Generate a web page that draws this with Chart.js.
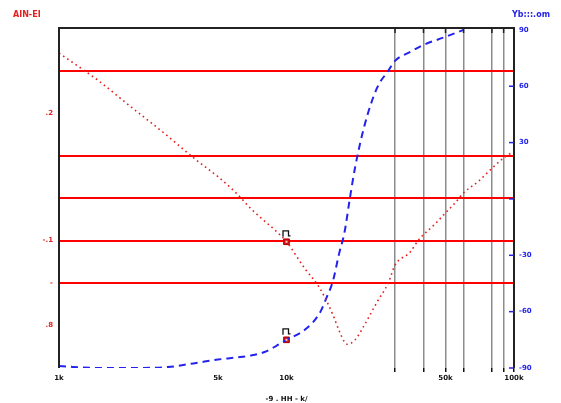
<!DOCTYPE html>
<html><head><meta charset="utf-8">
<script src="https://cdn.jsdelivr.net/npm/chart.js@4.4.1/dist/chart.umd.min.js"></script>
<style>html,body{margin:0;padding:0;background:#fff}canvas{display:block}</style>
</head><body>
<canvas id="c" width="561" height="403"></canvas>
<script>
// ---- data ----
const freqRed   = [1000,1500,2000,3000,4000,5000,6000,7000,8000,9000,10000,12000,14000,16000,17000,18000,18500,20000,22000,25000,28000,30000,35000,38000,45000,50000,55000,60000,70000,80000,90000,100000];
const magRed    = [7.41,6.75,6.21,5.46,4.90,4.50,4.12,3.74,3.46,3.22,2.97,2.35,1.88,1.25,0.89,0.61,0.56,0.66,1.01,1.55,2.00,2.42,2.73,3.01,3.39,3.65,3.88,4.12,4.40,4.70,4.94,5.10];
const freqBlue  = [1000,1500,2000,3000,4000,5000,6000,7000,8000,9000,10000,12000,14000,15000,16000,17000,18000,19000,20000,22000,25000,28000,30000,35000,40000,50000,60000];
const phaseBlue = [-89,-90,-90,-89.5,-87.3,-85.5,-84.4,-83.3,-81.5,-78.3,-75,-69.8,-60.7,-52.5,-43.7,-29.5,-17.6,0.5,16.5,38.9,59.1,68.2,73.5,78.3,82,86.3,90];
const markerFreq = [10000, 10000];
const markerRedVal = [2.97];
const markerBlueVal = [-75];
const leftTickValues = [0,1,2,3,4,5,6,7,8];
const leftTickLabels = {6:'.2', 3:'-.1', 2:'-', 1:'.8'};
const leftRedLines = [7,5,4,3,2];
const rightTickValues = [-90,-60,-30,0,30,60,90];
const rightTickLabels = {90:'90',60:'60',30:'30',0:'','-30':'-30','-60':'-60','-90':'-90'};
const xLabelValues = [1000,5000,10000,50000,100000];
const xLabels = ['1k','5k','10k','50k','100k'];
const xGridValues = [30000,40000,50000,60000,80000,90000];
const leftTitle = 'AIN-EI';
const rightTitle = 'Yb:::.om';
const xTitle = '-9 . HH - k/';

const RED = 'rgb(230,30,30)';
const LINE_RED = 'rgb(255,0,0)';
const BLUE = 'rgb(35,35,235)';
const FONT = {family:'DejaVu Sans', size:7, weight:'bold'};

const deco = {
  id:'deco',
  afterDatasetsDraw(chart){
    const {ctx, chartArea:a, scales} = chart;
    ctx.save();
    ctx.strokeStyle = '#222'; ctx.lineWidth = 2;
    ctx.beginPath();
    ctx.moveTo(a.left, a.bottom); ctx.lineTo(a.left, a.top); ctx.lineTo(a.right, a.top); ctx.lineTo(a.right, a.bottom);
    ctx.stroke();
    ctx.lineWidth = 1.5;
    xGridValues.forEach(v=>{
      const px = scales.x.getPixelForValue(v);
      ctx.beginPath(); ctx.moveTo(px, a.top); ctx.lineTo(px, a.top+5); ctx.stroke();
    });
    ctx.strokeStyle = BLUE; ctx.lineWidth = 1.5;
    rightTickValues.forEach(v=>{
      if (v>=90) return;
      const py = scales.y1.getPixelForValue(v);
      ctx.beginPath(); ctx.moveTo(a.right-5, py); ctx.lineTo(a.right, py); ctx.stroke();
    });
    const pts = [
      [scales.x.getPixelForValue(markerFreq[0]), scales.y.getPixelForValue(markerRedVal[0])],
      [scales.x.getPixelForValue(markerFreq[1]), scales.y1.getPixelForValue(markerBlueVal[0])]
    ];
    pts.forEach(([px,py])=>{
      ctx.fillStyle = 'rgb(255,200,200)';
      ctx.fillRect(px-1, py-1, 2, 2);
      ctx.strokeStyle = '#111'; ctx.lineWidth = 1.3;
      ctx.beginPath();
      ctx.moveTo(px-3.5, py-5); ctx.lineTo(px-3.5, py-11); ctx.lineTo(px+2, py-11); ctx.lineTo(px+2, py-6); ctx.lineTo(px+4, py-6);
      ctx.stroke();
    });
    ctx.font = 'bold 8px "DejaVu Sans"';
    ctx.textBaseline = 'middle';
    ctx.fillStyle = RED; ctx.textAlign = 'left';
    ctx.fillText(leftTitle, 13, 15);
    ctx.fillStyle = BLUE; ctx.textAlign = 'left';
    ctx.fillText(rightTitle, 512, 15);
    ctx.restore();
  }
};

new Chart(document.getElementById('c'), {
  type:'line',
  data:{
    datasets:[
      {label:'mag', data:freqRed.map((f,i)=>({x:f,y:magRed[i]})), yAxisID:'y', borderColor:RED, borderWidth:1.6, borderDash:[1.6,3.4], pointRadius:0, fill:false, cubicInterpolationMode:'monotone'},
      {label:'phase', data:freqBlue.map((f,i)=>({x:f,y:phaseBlue[i]})), yAxisID:'y1', borderColor:BLUE, borderWidth:2, borderDash:[7,5], pointRadius:0, fill:false, cubicInterpolationMode:'monotone'},
      {label:'m1', data:[{x:markerFreq[0],y:markerRedVal[0]}], yAxisID:'y', showLine:false, pointStyle:'rect', pointRadius:4, pointBackgroundColor:'rgb(210,20,20)', pointBorderColor:'rgb(170,0,0)', pointBorderWidth:1},
      {label:'m2', data:[{x:markerFreq[1],y:markerBlueVal[0]}], yAxisID:'y1', showLine:false, pointStyle:'rect', pointRadius:4, pointBackgroundColor:'rgb(210,20,20)', pointBorderColor:'rgb(170,0,0)', pointBorderWidth:1}
    ]
  },
  options:{
    responsive:false, animation:false, devicePixelRatio:1,
    layout:{padding:{top:28,left:0,right:0,bottom:0}},
    plugins:{legend:{display:false}, tooltip:{enabled:false}},
    scales:{
      x:{
        type:'logarithmic', min:1000, max:100000,
        afterBuildTicks(s){ s.ticks = [...new Set([...xLabelValues, ...xGridValues])].sort((a,b)=>a-b).map(v=>({value:v})); },
        afterFit(s){ s.height = 35; },
        ticks:{ autoSkip:false, maxRotation:0, padding:2, color:'#111', font:FONT,
          callback(v){ const i = xLabelValues.indexOf(v); return i>=0 ? xLabels[i] : ''; } },
        grid:{ drawOnChartArea:true, tickLength:4,
          color(c){ return xGridValues.includes(c.tick.value) ? 'rgba(120,120,120,0.85)' : 'rgba(0,0,0,0)'; },
          tickColor(c){ return xGridValues.includes(c.tick.value) || c.tick.value===100000 ? '#111' : 'rgba(0,0,0,0)'; },
          lineWidth:1.5, tickWidth:1.5 },
        border:{display:false},
        title:{display:true, text:xTitle, color:'#111', font:FONT, padding:{top:2,bottom:0}}
      },
      y:{
        type:'linear', position:'left', min:0, max:8,
        afterBuildTicks(s){ s.ticks = leftTickValues.map(v=>({value:v})); },
        afterFit(s){ s.width = 59; },
        ticks:{ color:RED, font:FONT, padding:6, callback(v){ return leftTickLabels[v] || ''; } },
        grid:{ drawTicks:false, lineWidth:2,
          color(c){ return leftRedLines.includes(c.tick.value) ? LINE_RED : 'rgba(0,0,0,0)'; } },
        border:{display:false}
      },
      y1:{
        type:'linear', position:'right', min:-90, max:91,
        afterBuildTicks(s){ s.ticks = rightTickValues.map(v=>({value:v})); },
        afterFit(s){ s.width = 47; },
        ticks:{ color:BLUE, font:FONT, padding:5, callback(v){ return rightTickLabels[v] || ''; } },
        grid:{ drawOnChartArea:false, drawTicks:false },
        border:{display:false}
      }
    }
  },
  plugins:[deco]
});
</script>
</body></html>
